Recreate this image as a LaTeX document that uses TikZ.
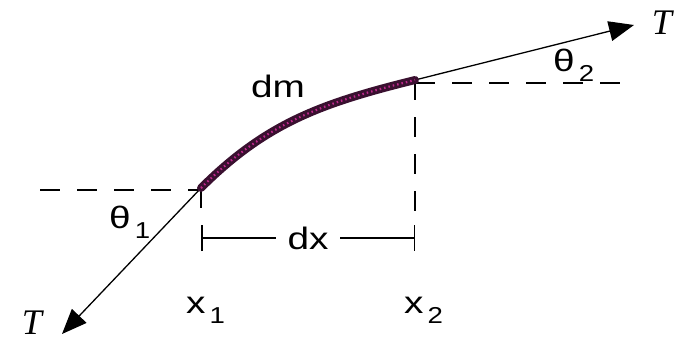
\documentclass[tikz,border=0pt]{standalone}
\usepackage{fontspec}
\setmainfont{Liberation Sans}
\newfontfamily\tfont{Liberation Serif}
\usetikzlibrary{arrows.meta}
\definecolor{stringdark}{RGB}{58,16,48}
\definecolor{stringmag}{RGB}{190,40,140}
\tikzset{
  sanslbl/.style={inner sep=0pt, font=\fontsize{31}{31}\selectfont},
  tlbl/.style={inner sep=0pt, font=\fontsize{36}{36}\selectfont\tfont\itshape},
  force/.style={line width=1.3pt, -{Triangle[length=25pt,width=20pt]}},
  guide/.style={line width=1.5pt, dash pattern=on 20pt off 17pt},
  dimline/.style={line width=1.5pt, {Bar[width=26pt,line width=1.5pt]}-{Bar[width=26pt,line width=1.5pt]}},
}
\newcommand{\wide}[1]{\scalebox{1.25}[1]{#1}}
\newcommand{\subs}[1]{\hspace{4pt}\raisebox{-10pt}{\fontsize{23}{23}\selectfont\scalebox{1.2}[1]{#1}}}
\begin{document}
\begin{tikzpicture}[x=1pt,y=-1pt]
\useasboundingbox (0,0) rectangle (674,343);
% key points
\coordinate (P1) at (201,188);
\coordinate (P2) at (415,80);
\coordinate (L1) at (40,190);
\coordinate (R2) at (622,83);
\coordinate (V1) at (201,208);
\coordinate (V2) at (415,212);
\coordinate (D1) at (201,238);
\coordinate (D2) at (415,238);
\coordinate (A1) at (62,334);
\coordinate (A2) at (634,25);
% dashed guides
\draw[guide] (L1) -- (P1 |- L1);
\draw[guide] (P2 |- R2) -- (R2);
\draw[guide] (P1) -- (V1);
\draw[guide] (P2) -- (V2);
% dimension dx
\draw[dimline] (D1) -- node[sanslbl, fill=white, inner xsep=12pt, inner ysep=2pt] (dx) {\wide{dx}} (D2);
% forces
\draw[force] (P1) -- (A1);
\draw[force] (P2) -- (A2);
% string element
\draw[stringdark, line width=8pt, line cap=round] (P1) to[out=45,in=194] (P2);
\draw[stringmag, line width=2.2pt, dash pattern=on 1.5pt off 3pt] (P1) to[out=45,in=194] (P2);
% labels
\node[sanslbl, anchor=base] (dm) at (278,97) {\wide{dm}};
\node[tlbl, anchor=base] (T1) at (32,334) {T};
\node[tlbl, anchor=base] (T2) at (662,34) {T};
\node[sanslbl, anchor=base west] (x1) at (186,313) {\wide{x}\subs{1}};
\node[sanslbl, anchor=base west] (x2) at (404,313) {\wide{x}\subs{2}};
\node[sanslbl, anchor=base west] (th1) at (109,228) {\wide{θ}\subs{1}};
\node[sanslbl, anchor=base west] (th2) at (553,71) {\wide{θ}\subs{2}};
\end{tikzpicture}
\end{document}
